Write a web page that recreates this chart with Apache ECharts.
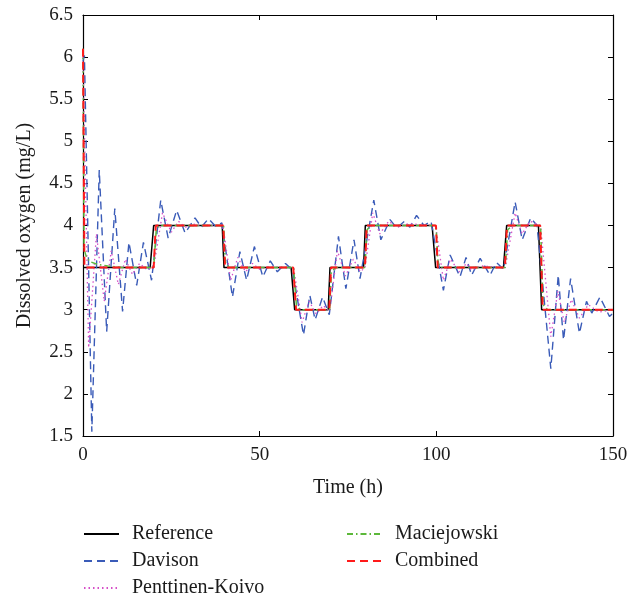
<!DOCTYPE html>
<html>
<head>
<meta charset="utf-8">
<script src="https://cdn.jsdelivr.net/npm/echarts@6/dist/echarts.min.js"></script>
<style>
  html, body { margin: 0; padding: 0; background: #fff; }
  #chart { width: 639px; height: 599px; }
</style>
</head>
<body>
<div id="chart"></div>
<script>
// Dissolved-oxygen tracking: set-point and four controller responses (time in h, DO in mg/L)

const refT = [0, 19, 20, 39.4, 39.9, 58.9, 59.9, 69.4, 69.9, 79.4, 79.9, 98.8, 99.8, 119, 119.9, 128.9, 129.8, 150];
const refV = [3.5, 3.5, 4, 4, 3.5, 3.5, 3, 3, 3.5, 3.5, 4, 4, 3.5, 3.5, 4, 4, 3, 3];

const davT = [0, 0.4, 2.5, 4.6, 6.7, 9.0, 11.2, 13.0, 15.2, 17.1, 19.4, 22.0, 24.1, 26.5, 28.9, 31.7, 33.5, 35.5, 37.5, 39.3,
              42.3, 44.4, 46.3, 48.5, 50.9, 53.0, 55.0, 57.3, 59.3, 62.4, 64.2, 65.7, 67.8, 69.7, 72.3, 74.4, 76.7, 78.4,
              82.3, 84.3, 86.9, 88.8, 91.0, 92.5, 94.4, 96.5, 98.5, 102.0, 103.9, 106.7, 108.4, 110.0, 112.4, 115.2, 117.0, 119.0,
              122.3, 124.3, 126.7, 128.5, 132.4, 134.5, 136.0, 138.0, 140.5, 142.5, 144.0, 146.3, 149.0, 150];
const davV = [5.95, 6.02, 1.55, 4.66, 2.74, 4.2, 2.98, 3.8, 3.29, 3.8, 3.35, 4.3, 3.85, 4.18, 3.91, 4.09, 3.98, 4.08, 3.99, 4.03,
              3.15, 3.69, 3.35, 3.75, 3.39, 3.58, 3.45, 3.55, 3.47, 2.7, 3.17, 2.88, 3.15, 2.94, 3.87, 3.25, 3.83, 3.37,
              4.3, 3.83, 4.07, 3.97, 4.05, 3.98, 4.12, 4.0, 4.05, 3.23, 3.65, 3.39, 3.62, 3.41, 3.61, 3.41, 3.56, 3.48,
              4.28, 3.83, 4.09, 4.0, 2.3, 3.41, 2.64, 3.37, 2.72, 3.1, 2.96, 3.15, 2.92, 2.96];

const pkT = [0, 1.6, 3.8, 6.0, 8.0, 10.0, 12.0, 14.0, 16.0, 18.0, 20.0, 22.5, 25.0, 27.0, 29.0, 31.0, 33.0, 39.6,
             41.8, 43.8, 46.0, 48.0, 50.0, 52.0, 59.6, 62.0, 64.0, 66.0, 68.0, 69.8, 72.0, 74.3, 76.5, 78.5, 79.8,
             82.0, 84.0, 86.5, 89.0, 92.0, 99.8, 102.0, 104.0, 106.5, 108.5, 110.0, 112.5, 119.5,
             122.3, 124.3, 126.5, 129.5, 132.4, 134.4, 136.2, 138.2, 140.5, 143.0, 146.0, 150];
const pkV = [6.0, 2.55, 3.9, 3.1, 3.7, 3.3, 3.6, 3.42, 3.55, 3.48, 3.5, 4.15, 3.92, 4.05, 3.98, 4.02, 4.0, 4.0,
             3.35, 3.62, 3.45, 3.55, 3.48, 3.51, 3.5, 2.85, 3.1, 2.95, 3.05, 2.98, 3.7, 3.4, 3.6, 3.45, 3.5,
             4.15, 3.9, 4.05, 3.98, 4.02, 4.0, 3.35, 3.6, 3.45, 3.55, 3.47, 3.52, 3.5,
             4.15, 3.9, 4.05, 4.0, 2.68, 3.22, 2.85, 3.12, 2.9, 3.06, 2.97, 3.0];

const macT = [0, 0.3, 1, 2, 4, 7, 11, 20, 20.7, 21.5, 39.8, 40.3, 41.5, 59.6, 60.4, 61.5, 69.8, 70.3, 71.5,
              79.8, 80.4, 81.5, 99.9, 100.5, 101.5, 119.5, 120.2, 121.5, 129.5, 130.2, 131.5, 150];
const macV = [6.1, 3.72, 3.62, 3.57, 3.54, 3.52, 3.5, 3.5, 3.93, 4.0, 4.0, 3.56, 3.5, 3.5, 3.05, 3.0, 3.0, 3.45, 3.5,
              3.5, 3.95, 4.0, 4.0, 3.55, 3.5, 3.5, 3.95, 4.0, 4.0, 3.06, 3.0, 3.0];

const combT = [0, 0.4, 20, 20.6, 39.7, 40.2, 59.5, 60.3, 69.7, 70.2, 79.8, 80.3, 99.9, 100.4, 119.4, 120, 129.4, 130.1, 150];
const combV = [6.1, 3.5, 3.5, 4, 4, 3.5, 3.5, 3, 3, 3.5, 3.5, 4, 4, 3.5, 3.5, 4, 4, 3, 3];

const xTicks = { min: 0, max: 150, interval: 50 };
const yTicks = { min: 1.5, max: 6.5, interval: 0.5 };

const pairs = (t, v) => t.map((x, i) => [x, v[i]]);

const FONT = '"Liberation Serif", "DejaVu Serif", serif';
const INK = '#1a1a1a';

const frameAxis = (extra) => Object.assign({
  type: 'value',
  axisLine: { show: true, onZero: false, lineStyle: { color: '#000', width: 1.2 } },
  axisTick: { show: true, inside: true, length: 5, lineStyle: { color: '#000', width: 1 } },
  splitLine: { show: false }
}, extra);

// one legend box per entry, laid out in two columns under the plot
const legendEntry = (name, left, top) => ({
  data: [name],
  left: left, top: top, padding: 0,
  itemWidth: 35, itemHeight: 14,
  itemStyle: { color: 'transparent', borderColor: 'transparent', borderWidth: 0 },
  textStyle: { fontFamily: FONT, fontSize: 20, color: INK, lineHeight: 20, padding: [0, 0, 0, 8] }
});

const chart = echarts.init(document.getElementById('chart'), null, { renderer: 'canvas' });

chart.setOption({
  animation: false,
  backgroundColor: '#ffffff',
  grid: { left: 83, right: 26, top: 15, bottom: 163 },
  xAxis: [
    frameAxis({
      position: 'bottom', ...xTicks,
      name: 'Time (h)', nameLocation: 'middle', nameGap: 42,
      nameTextStyle: { fontFamily: FONT, fontSize: 20, color: INK },
      axisLabel: { fontFamily: FONT, fontSize: 19, color: INK, margin: 10 }
    }),
    frameAxis({ position: 'top', ...xTicks, axisLabel: { show: false } })
  ],
  yAxis: [
    frameAxis({
      position: 'left', ...yTicks,
      name: 'Dissolved oxygen (mg/L)', nameLocation: 'middle', nameGap: 48,
      nameTextStyle: { fontFamily: FONT, fontSize: 20, color: INK },
      axisLabel: { fontFamily: FONT, fontSize: 19, color: INK, margin: 10 }
    }),
    frameAxis({ position: 'right', ...yTicks, axisLabel: { show: false } })
  ],
  legend: [
    legendEntry('Reference', 83, 524),
    legendEntry('Davison', 83, 551),
    legendEntry('Penttinen-Koivo', 83, 578),
    legendEntry('Maciejowski', 346, 524),
    legendEntry('Combined', 346, 551)
  ],
  series: [
    {
      name: 'Reference', type: 'line', symbol: 'none', z: 2,
      data: pairs(refT, refV),
      lineStyle: { color: '#000000', width: 1.5, type: 'solid' },
      itemStyle: { color: '#000000' }
    },
    {
      name: 'Davison', type: 'line', symbol: 'none', z: 3,
      data: pairs(davT, davV),
      lineStyle: { color: '#3a5bb8', width: 1.4, type: [8, 5] },
      itemStyle: { color: '#3a5bb8' }
    },
    {
      name: 'Penttinen-Koivo', type: 'line', symbol: 'none', z: 4,
      data: pairs(pkT, pkV),
      lineStyle: { color: '#d64fc8', width: 1.3, type: [1.5, 3] },
      itemStyle: { color: '#d64fc8' }
    },
    {
      name: 'Maciejowski', type: 'line', symbol: 'none', z: 5,
      data: pairs(macT, macV),
      lineStyle: { color: '#5cb83a', width: 1.5, type: [6, 3, 1.5, 3] },
      itemStyle: { color: '#5cb83a' }
    },
    {
      name: 'Combined', type: 'line', symbol: 'none', z: 6,
      data: pairs(combT, combV),
      lineStyle: { color: '#ff1a1a', width: 2, type: [8, 5] },
      itemStyle: { color: '#ff1a1a' }
    }
  ]
});
</script>
</body>
</html>
